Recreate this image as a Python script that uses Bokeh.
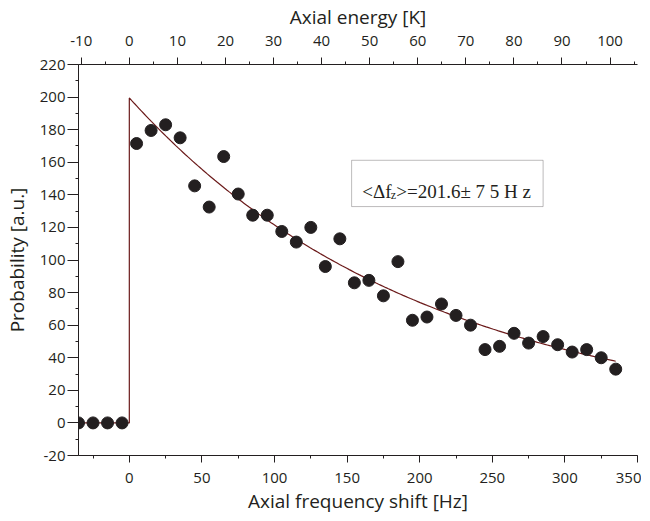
import numpy as np
from bokeh.plotting import figure
from bokeh.models import (Range1d, LinearAxis, SingleIntervalTicker, Label,
                          BoxAnnotation, ColumnDataSource, PrintfTickFormatter)
from bokeh.embed import file_html
from bokeh.resources import INLINE

# ---- data ----
freq_shift_hz = [-35, -25, -15, -5, 5, 15, 25, 35, 45, 55, 65, 75, 85, 95, 105,
                 115, 125, 135, 145, 155, 165, 175, 185, 195, 205, 215, 225,
                 235, 245, 255, 265, 275, 285, 295, 305, 315, 325, 335]
probability = [0, 0, 0, 0, 171.5, 179.5, 183, 175, 145.5, 132.5, 163.5, 140.5,
               127.5, 127.5, 117.5, 111, 120, 96, 113, 86, 87.5, 78, 99, 63, 65,
               73, 66, 60, 45, 47, 55, 49, 53, 48, 43.5, 45, 40, 33]

# fitted exponential model (parameters of the fit shown in the chart)
fit_amplitude = 199.5
fit_mean_hz = 201.6
fit_start_hz = -35
fit_end_hz = 335
hz_per_kelvin = 3.311

x_range = (-35, 350)
y_range = (-20, 220)

FONT = "Open Sans"
SERIF = "Liberation Serif"

p = figure(frame_width=559, frame_height=391,
           x_range=Range1d(*x_range), y_range=Range1d(*y_range),
           output_backend="svg", toolbar_location=None,
           min_border_left=71, min_border_right=4,
           min_border_top=57, min_border_bottom=50,
           x_axis_location=None, y_axis_location=None)
p.outline_line_color = None
p.xgrid.visible = False
p.ygrid.visible = False
p.background_fill_color = "white"
p.border_fill_color = "white"

p.extra_x_ranges = {"K": Range1d(x_range[0] / hz_per_kelvin, x_range[1] / hz_per_kelvin)}


def style(ax, tick_out, standoff, label_standoff):
    ax.formatter = PrintfTickFormatter(format="%d")
    ax.axis_line_color = "#231f20"
    ax.axis_line_width = 1
    ax.major_tick_line_color = "#231f20"
    ax.minor_tick_line_color = "#231f20"
    ax.major_tick_in = 0
    ax.minor_tick_in = 0
    ax.major_tick_out = tick_out
    ax.minor_tick_out = 3
    ax.major_label_text_font = FONT
    ax.major_label_text_font_size = "15px"
    ax.major_label_text_color = "#231f20"
    ax.major_label_standoff = standoff
    ax.axis_label_text_font = FONT
    ax.axis_label_text_font_size = "19px"
    ax.axis_label_text_font_style = "normal"
    ax.axis_label_text_color = "#231f20"
    ax.axis_label_standoff = label_standoff


xb = LinearAxis(ticker=SingleIntervalTicker(interval=50, num_minor_ticks=2),
                axis_label="Axial frequency shift [Hz]")
style(xb, 7, 10, 2)
p.add_layout(xb, "below")

yl = LinearAxis(ticker=SingleIntervalTicker(interval=20, num_minor_ticks=2),
                axis_label="Probability [a.u.]")
style(yl, 11, 2, 7)
p.add_layout(yl, "left")

xt = LinearAxis(x_range_name="K",
                ticker=SingleIntervalTicker(interval=10, num_minor_ticks=2),
                axis_label="Axial energy [K]")
style(xt, 7, 12, 3)
p.add_layout(xt, "above")

# fit curve: zero baseline, vertical step at 0, then exponential decay
curve_x = np.linspace(0, fit_end_hz, 200)
line_x = np.concatenate([[fit_start_hz, 0], curve_x])
line_y = np.concatenate([[0, 0], fit_amplitude * np.exp(-curve_x / fit_mean_hz)])
p.line(line_x, line_y, line_color="#6b1a1a", line_width=1.2)

src = ColumnDataSource(dict(x=freq_shift_hz, y=probability))
p.scatter("x", "y", source=src, size=12, fill_color="#231f20",
          line_color="#231f20", marker="circle")

# annotation box
p.add_layout(BoxAnnotation(left=153.1, right=285.0, bottom=132.8, top=161.2,
                           fill_alpha=0, line_color="#231f20", line_width=1))
tx, ty = 160.4, 142.0
p.add_layout(Label(x=tx, y=ty, text="<Δf", text_font=SERIF, text_font_size="19px",
                   text_color="#231f20", text_baseline="alphabetic"))
p.add_layout(Label(x=tx, y=ty, x_offset=28.5, y_offset=-3, text="z", text_font=SERIF,
                   text_font_size="12px", text_color="#231f20",
                   text_baseline="alphabetic"))
p.add_layout(Label(x=tx, y=ty, x_offset=34, text=">=201.6± 7 5 H z",
                   text_font=SERIF, text_font_size="19px", text_color="#231f20",
                   text_baseline="alphabetic"))

open("out.html", "w").write(file_html(p, INLINE))
